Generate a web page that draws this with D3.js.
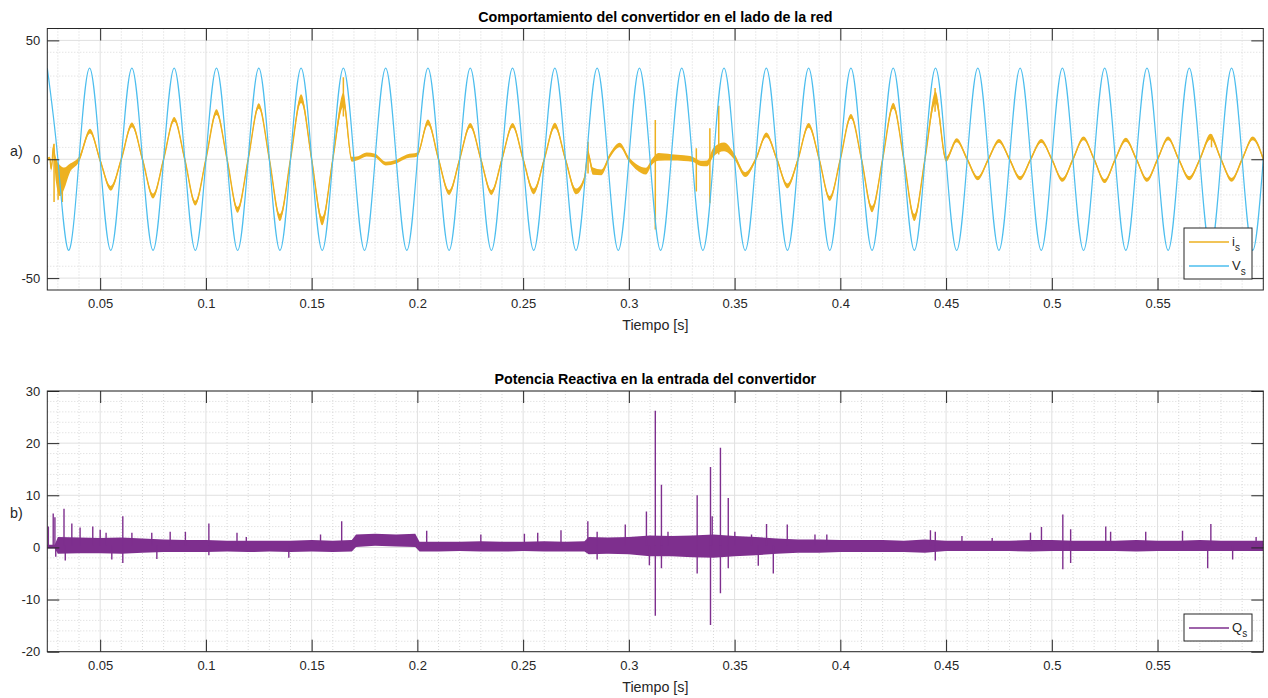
<!doctype html>
<html lang="es">
<head>
<meta charset="utf-8">
<title>Comportamiento del convertidor</title>
<script src="https://d3js.org/d3.v7.min.js"></script>
<style>
  body { margin: 0; background: #fff; }
  svg { font-family: "Liberation Sans", Arial, Helvetica, sans-serif; }
  text { fill: #262626; }
</style>
</head>
<body>
<div id="root"></div>
<script>

// ticks
const xTicks = [0.05, 0.1, 0.15, 0.2, 0.25, 0.3, 0.35, 0.4, 0.45, 0.5, 0.55];
const yTicksTop = [-50, 0, 50];
const yTicksBottom = [-20, -10, 0, 10, 20, 30];

// V_s: crests and zero crossings
const vPeakTime = [0.025, 0.035, 0.045, 0.055, 0.065, 0.075, 0.085, 0.095, 0.105, 0.115,
  0.125, 0.135, 0.145, 0.155, 0.165, 0.175, 0.185, 0.195, 0.205, 0.215,
  0.225, 0.235, 0.245, 0.255, 0.265, 0.275, 0.285, 0.295, 0.305, 0.315,
  0.325, 0.335, 0.345, 0.355, 0.365, 0.375, 0.385, 0.395, 0.405, 0.415,
  0.425, 0.435, 0.445, 0.455, 0.465, 0.475, 0.485, 0.495, 0.505, 0.515,
  0.525, 0.535, 0.545, 0.555, 0.565, 0.575, 0.585, 0.595];
const vPeakValue = [38.3, -38.3, 38.3, -38.3, 38.3, -38.3, 38.3, -38.3, 38.3, -38.3,
  38.3, -38.3, 38.3, -38.3, 38.3, -38.3, 38.3, -38.3, 38.3, -38.3,
  38.3, -38.3, 38.3, -38.3, 38.3, -38.3, 38.3, -38.3, 38.3, -38.3,
  38.3, -38.3, 38.3, -38.3, 38.3, -38.3, 38.3, -38.3, 38.3, -38.3,
  38.3, -38.3, 38.3, -38.3, 38.3, -38.3, 38.3, -38.3, 38.3, -38.3,
  38.3, -38.3, 38.3, -38.3, 38.3, -38.3, 38.3, -38.3];
const vZeroTime = [0.03, 0.04, 0.05, 0.06, 0.07, 0.08, 0.09, 0.1, 0.11, 0.12,
  0.13, 0.14, 0.15, 0.16, 0.17, 0.18, 0.19, 0.2, 0.21, 0.22,
  0.23, 0.24, 0.25, 0.26, 0.27, 0.28, 0.29, 0.3, 0.31, 0.32,
  0.33, 0.34, 0.35, 0.36, 0.37, 0.38, 0.39, 0.4, 0.41, 0.42,
  0.43, 0.44, 0.45, 0.46, 0.47, 0.48, 0.49, 0.5, 0.51, 0.52,
  0.53, 0.54, 0.55, 0.56, 0.57, 0.58, 0.59, 0.6];

// i_s: [time, value, ripple half-width]
const iKnots = [
  [0.025, 0, 0.6], [0.0262, 0.4, 0.6], [0.0268, -4, 0.8], [0.0273, -1, 0.8], [0.0278, 5, 1.5],
  [0.029, -4, 5], [0.031, -9, 6.5], [0.033, -8, 4.5], [0.0355, -4, 2], [0.04, 0, 1.2],
  [0.0452, 11.8, 1], [0.05, -0.5, 0.8], [0.055, -12.2, 1], [0.06, 0, 0.8], [0.065, 14.5, 1],
  [0.07, 0, 0.8], [0.075, -15.5, 1], [0.08, 0, 0.8], [0.085, 16.8, 1], [0.09, 0, 0.8],
  [0.095, -18.5, 1], [0.1, 0, 0.8], [0.105, 19.8, 1.2], [0.11, 0, 0.8], [0.115, -21.3, 1.2],
  [0.12, 0, 0.8], [0.125, 22.4, 1.2], [0.13, 0, 0.8], [0.135, -24.5, 1.5], [0.14, 0, 0.8],
  [0.145, 25.5, 1.8], [0.15, 0, 1], [0.155, -26, 1.8], [0.16, 0, 1], [0.165, 25, 3],
  [0.169, 0, 1], [0.172, 0.5, 0.8], [0.176, 2, 0.8], [0.18, 1.5, 0.8], [0.185, -1.8, 0.8],
  [0.19, -1, 0.8], [0.195, 1.2, 0.8], [0.2, 2, 0.8], [0.205, 15.5, 1.2], [0.21, 0, 0.8],
  [0.215, -14, 1], [0.22, 0, 0.8], [0.225, 14.2, 1], [0.23, 0, 0.8], [0.235, -14, 1],
  [0.24, 0, 0.8], [0.245, 14.2, 1], [0.25, 0, 0.8], [0.255, -13.5, 1.2], [0.26, 0, 0.8],
  [0.265, 14.2, 1.2], [0.27, 0, 0.8], [0.275, -13.5, 1.2], [0.279, -8, 1], [0.2807, 2, 1.6],
  [0.283, -5, 1.5], [0.287, -5.5, 1.2], [0.291, 1.5, 0.9], [0.2957, 6, 0.9], [0.3, 0, 0.9],
  [0.304, -3.5, 1.2], [0.308, -5, 1.4], [0.311, -1, 1.2], [0.314, 1, 1.6], [0.32, 0.8, 1.3],
  [0.326, 0.5, 1.2], [0.33, 0, 1.1], [0.334, -1.7, 1.1], [0.337, -1.7, 1.2], [0.34, 3, 1.8],
  [0.345, 5.2, 1.8], [0.35, 1, 1.2], [0.355, -6.5, 1], [0.36, 0, 0.8], [0.365, 10.3, 1],
  [0.37, 0, 0.8], [0.375, -11.2, 1], [0.38, 0, 0.8], [0.385, 14.2, 1], [0.39, 0, 0.8],
  [0.395, -16.5, 1], [0.4, 0, 0.8], [0.405, 18, 1], [0.41, 0, 0.8], [0.415, -21, 1.3],
  [0.42, 0, 0.8], [0.425, 22.5, 1.3], [0.43, 0, 0.8], [0.435, -24.5, 1.5], [0.44, 0, 1],
  [0.445, 26, 2.5], [0.45, 0, 1], [0.455, 8, 0.8], [0.46, 0, 0.7], [0.465, -8, 0.8],
  [0.47, 0, 0.7], [0.475, 7.7, 0.8], [0.48, 0, 0.7], [0.485, -8, 0.8], [0.49, 0, 0.7],
  [0.495, 7.7, 0.8], [0.5, 0, 0.7], [0.505, -8.7, 0.8], [0.51, 0, 0.7], [0.515, 8.8, 0.8],
  [0.52, 0, 0.7], [0.525, -9.2, 0.8], [0.53, 0, 0.7], [0.535, 8.2, 0.8], [0.54, 0, 0.7],
  [0.545, -8.7, 0.8], [0.55, 0, 0.7], [0.555, 8.8, 0.8], [0.56, 0, 0.7], [0.565, -8, 0.8],
  [0.57, 0, 0.7], [0.575, 9.5, 1.2], [0.58, 0, 0.7], [0.585, -8.7, 0.8], [0.59, 0, 0.7],
  [0.595, 8.8, 0.8], [0.6, 0, 0.7]
];
// i_s spikes: [time, low, high]
const iSpikes = [
  [0.165, 18, 34.5], [0.2807, -6, 7.4], [0.3125, -29.5, 16.5], [0.3319, -13.6, 4.6],
  [0.3383, -18.5, 13], [0.3425, 2, 22.5], [0.4448, 20, 30], [0.5755, 5, 10.5],
  [0.0282, -18, 6.5], [0.0301, -17, -2], [0.0321, -18, -4]
];

// Q_s: ripple band
const qTime = [0.025, 0.0285, 0.03, 0.04, 0.05, 0.06, 0.07, 0.08, 0.09, 0.1,
  0.11, 0.12, 0.13, 0.14, 0.15, 0.16, 0.169, 0.171, 0.18, 0.19,
  0.199, 0.201, 0.21, 0.22, 0.23, 0.24, 0.25, 0.26, 0.27, 0.279,
  0.281, 0.29, 0.3, 0.31, 0.32, 0.33, 0.34, 0.35, 0.36, 0.37,
  0.38, 0.39, 0.4, 0.41, 0.42, 0.43, 0.44, 0.45, 0.46, 0.47,
  0.48, 0.49, 0.5, 0.51, 0.52, 0.53, 0.54, 0.55, 0.56, 0.57,
  0.58, 0.59, 0.6];
const qLow = [-0.2, -0.2, -1.2, -1.1, -1.1, -1.2, -1.0, -0.9, -0.9, -0.9,
  -0.8, -0.9, -0.8, -0.9, -0.8, -0.9, -0.8, 0.1, 0.3, 0.2,
  0.1, -0.8, -0.8, -0.7, -0.8, -0.8, -0.7, -0.8, -0.8, -0.8,
  -1.3, -1.2, -1.3, -1.7, -1.7, -1.9, -2.0, -1.7, -1.5, -1.2,
  -1.0, -1.0, -0.9, -0.9, -0.9, -0.9, -1.0, -0.7, -0.7, -0.7,
  -0.7, -0.8, -0.7, -0.7, -0.7, -0.7, -0.8, -0.7, -0.7, -0.7,
  -0.7, -0.7, -0.7];
const qHigh = [0.5, 0.5, 2.0, 1.9, 1.8, 1.9, 1.7, 1.5, 1.4, 1.4,
  1.3, 1.3, 1.3, 1.3, 1.4, 1.3, 1.4, 2.5, 2.6, 2.5,
  2.6, 1.1, 1.1, 1.1, 1.2, 1.1, 1.1, 1.2, 1.1, 1.2,
  2.0, 1.9, 2.0, 2.3, 2.2, 2.3, 2.5, 2.2, 2.0, 1.7,
  1.5, 1.5, 1.4, 1.4, 1.4, 1.3, 1.5, 1.3, 1.3, 1.3,
  1.3, 1.4, 1.4, 1.3, 1.3, 1.3, 1.4, 1.3, 1.3, 1.4,
  1.3, 1.3, 1.3];
// Q_s spikes: [time, value]
const qSpikes = [
  [0.0255, 4], [0.0278, 6.5], [0.0286, 5.8], [0.029, -1.8], [0.0329, 7.4], [0.0335, -2.5],
  [0.0366, 4.6], [0.0405, 3.8], [0.0465, 4], [0.05, 3.4], [0.0528, 2.8], [0.0555, -2.3],
  [0.0607, 6], [0.0607, -3], [0.065, 2.8], [0.0744, 2.8], [0.0768, -2.2], [0.0831, 3],
  [0.0903, 3], [0.1014, 4.6], [0.1014, -1.5], [0.1147, 2.8], [0.1191, 2], [0.1392, -2],
  [0.1542, 2.5], [0.1642, 5], [0.2044, 3.2], [0.23, 2.5], [0.2506, 2.6], [0.2569, 2.8],
  [0.2679, 3.3], [0.2806, 5], [0.285, 3], [0.285, -2.3], [0.2983, 4.4], [0.3083, 6.9],
  [0.3097, -3.4], [0.3125, 26.2], [0.3125, -13.1], [0.3154, 12], [0.3154, -4], [0.3185, 3],
  [0.3323, 10], [0.3323, -5], [0.3386, 15.4], [0.3386, -14.9], [0.3394, 6], [0.3433, 19.1],
  [0.3433, -8.8], [0.347, 9.5], [0.347, -4], [0.3501, 3], [0.358, 2.5], [0.3612, -3.5],
  [0.3651, 4.5], [0.3683, -5], [0.3749, 4.4], [0.388, 2.5], [0.3936, 2.5], [0.4426, 3.3],
  [0.4449, 3], [0.4449, -2.5], [0.4575, 2.2], [0.4718, 1.8], [0.4899, 2.8], [0.4951, 3.9],
  [0.5052, 6.3], [0.5052, -4.2], [0.5089, 3.5], [0.5089, -3], [0.5255, 4], [0.5278, 3],
  [0.5444, 3], [0.5618, 3.2], [0.5737, -4], [0.5752, 4.5], [0.5855, -2.3], [0.5966, 2]
];

// layout
const width = 1268, height = 698;
const left = 47.3, right = 1263.3;
const panels = [
  { top: 28.5, bottom: 290, domain: [-55, 55], ticks: yTicksTop, minorStep: 10,
    title: 'Comportamiento del convertidor en el lado de la red', tag: 'a)' },
  { top: 391, bottom: 651.7, domain: [-20, 30], ticks: yTicksBottom, minorStep: 2,
    title: 'Potencia Reactiva en la entrada del convertidor', tag: 'b)' }
];
const colI = '#EDB120', colV = '#4DBEEE', colQ = '#7E2F8E', ink = '#262626';
const font = '"Liberation Sans", Arial, Helvetica, sans-serif';

const x = d3.scaleLinear().domain([0.025, 0.6]).range([left, right]);
const xMinor = d3.range(3, 61).map(k => k / 100).filter(v => !xTicks.some(t => Math.abs(t - v) < 1e-6));

const svg = d3.select('#root').append('svg')
  .attr('width', width).attr('height', height);

panels.forEach((p, idx) => {
  p.y = d3.scaleLinear().domain(p.domain).range([p.bottom, p.top]);
  const g = svg.append('g');
  const yMinor = d3.range(p.domain[0], p.domain[1] + 0.001, p.minorStep)
    .filter(v => !p.ticks.includes(v) && v > p.domain[0] && v < p.domain[1]);

  // minor grid
  g.append('g').selectAll('line').data(xMinor).join('line')
    .attr('x1', d => x(d)).attr('x2', d => x(d)).attr('y1', p.top).attr('y2', p.bottom)
    .attr('stroke', '#cfcfcf').attr('stroke-width', 0.8).attr('stroke-dasharray', '1,2');
  g.append('g').selectAll('line').data(yMinor).join('line')
    .attr('x1', left).attr('x2', right).attr('y1', d => p.y(d)).attr('y2', d => p.y(d))
    .attr('stroke', '#cfcfcf').attr('stroke-width', 0.8).attr('stroke-dasharray', '1,2');
  // major grid
  g.append('g').selectAll('line').data(xTicks).join('line')
    .attr('x1', d => x(d)).attr('x2', d => x(d)).attr('y1', p.top).attr('y2', p.bottom)
    .attr('stroke', '#e0e0e0').attr('stroke-width', 1);
  g.append('g').selectAll('line').data(p.ticks).join('line')
    .attr('x1', left).attr('x2', right).attr('y1', d => p.y(d)).attr('y2', d => p.y(d))
    .attr('stroke', '#e0e0e0').attr('stroke-width', 1);

  // clip
  svg.append('clipPath').attr('id', 'clip' + idx).append('rect')
    .attr('x', left).attr('y', p.top).attr('width', right - left).attr('height', p.bottom - p.top);
  p.plot = svg.append('g').attr('clip-path', `url(#clip${idx})`);
});

// ---- top panel: i_s and V_s
const pT = panels[0];
const iArea = d3.area().curve(d3.curveMonotoneX)
  .x(d => x(d[0])).y0(d => pT.y(d[1] - d[2])).y1(d => pT.y(d[1] + d[2]));
const iLine = d3.line().curve(d3.curveMonotoneX)
  .x(d => x(d[0])).y(d => pT.y(d[1]));
pT.plot.append('path').datum(iKnots).attr('d', iArea).attr('fill', colI);
pT.plot.append('path').datum(iKnots).attr('d', iLine)
  .attr('fill', 'none').attr('stroke', colI).attr('stroke-width', 1.4);
pT.plot.append('g').selectAll('line').data(iSpikes).join('line')
  .attr('x1', d => x(d[0])).attr('x2', d => x(d[0]))
  .attr('y1', d => pT.y(d[1])).attr('y2', d => pT.y(d[2]))
  .attr('stroke', colI).attr('stroke-width', 1.5);

const vKnots = vPeakTime.map((t, i) => [t, vPeakValue[i]])
  .concat(vZeroTime.map(t => [t, 0]))
  .sort((a, b) => a[0] - b[0]);
pT.plot.append('path').datum(vKnots)
  .attr('d', d3.line().curve(d3.curveNatural).x(d => x(d[0])).y(d => pT.y(d[1])))
  .attr('fill', 'none').attr('stroke', colV).attr('stroke-width', 1.2);

// ---- bottom panel: Q_s
const pB = panels[1];
const qBand = qTime.map((t, i) => [t, qLow[i], qHigh[i]]);
pB.plot.append('path').datum(qBand)
  .attr('d', d3.area().x(d => x(d[0])).y0(d => pB.y(d[1])).y1(d => pB.y(d[2])))
  .attr('fill', colQ);
pB.plot.append('g').selectAll('line').data(qSpikes).join('line')
  .attr('x1', d => x(d[0])).attr('x2', d => x(d[0]))
  .attr('y1', pB.y(0.3)).attr('y2', d => pB.y(d[1]))
  .attr('stroke', colQ).attr('stroke-width', 1.4);

// ---- axes, box, labels
panels.forEach(p => {
  const fmt = d => String(d);
  const ax = svg.append('g');
  ax.append('g').attr('transform', `translate(0,${p.bottom})`)
    .call(d3.axisBottom(x).tickValues(xTicks).tickFormat(fmt).tickSize(-12).tickSizeOuter(0).tickPadding(9));
  ax.append('g').attr('transform', `translate(0,${p.top})`)
    .call(d3.axisTop(x).tickValues(xTicks).tickFormat('').tickSize(-12).tickSizeOuter(0));
  ax.append('g').attr('transform', `translate(${left},0)`)
    .call(d3.axisLeft(p.y).tickValues(p.ticks).tickFormat(fmt).tickSize(-12).tickSizeOuter(0).tickPadding(7));
  ax.append('g').attr('transform', `translate(${right},0)`)
    .call(d3.axisRight(p.y).tickValues(p.ticks).tickFormat('').tickSize(-12).tickSizeOuter(0));
  ax.selectAll('.domain').remove();
  ax.selectAll('.tick line').attr('stroke', ink);
  ax.selectAll('.tick text').attr('fill', ink)
    .attr('font-family', font).attr('font-size', 13);

  svg.append('rect').attr('x', left).attr('y', p.top)
    .attr('width', right - left).attr('height', p.bottom - p.top)
    .attr('fill', 'none').attr('stroke', ink).attr('stroke-width', 1);

  svg.append('text').attr('x', (left + right) / 2).attr('y', p.top - 7)
    .attr('text-anchor', 'middle').attr('font-size', 14.3).attr('font-weight', 'bold')
    .style('fill', '#000').text(p.title);
  svg.append('text').attr('x', (left + right) / 2).attr('y', p.bottom + 40)
    .attr('text-anchor', 'middle').attr('font-size', 14.3).text('Tiempo [s]');
  svg.append('text').attr('x', 10).attr('y', (p.top + p.bottom) / 2 - 3)
    .attr('font-size', 14.3).text(p.tag);
});

// ---- legends
function legend(y0, items) {
  const g = svg.append('g');
  const h = items.length === 1 ? 27 : 51;
  g.append('rect').attr('x', 1184).attr('y', y0).attr('width', 68).attr('height', h)
    .attr('fill', '#fff').attr('stroke', ink).attr('stroke-width', 1);
  items.forEach((it, i) => {
    const yy = y0 + (items.length === 1 ? 14 : 14 + i * 24);
    g.append('line').attr('x1', 1189).attr('x2', 1229).attr('y1', yy).attr('y2', yy)
      .attr('stroke', it.color).attr('stroke-width', 1.5);
    const t = g.append('text').attr('x', 1232).attr('y', yy + 4).attr('font-size', 13);
    t.append('tspan').text(it.name);
    t.append('tspan').attr('font-size', 10).attr('dy', 5).text('s');
  });
}
legend(228, [{ name: 'i', color: colI }, { name: 'V', color: colV }]);
legend(614, [{ name: 'Q', color: colQ }]);

</script>
</body>
</html>
